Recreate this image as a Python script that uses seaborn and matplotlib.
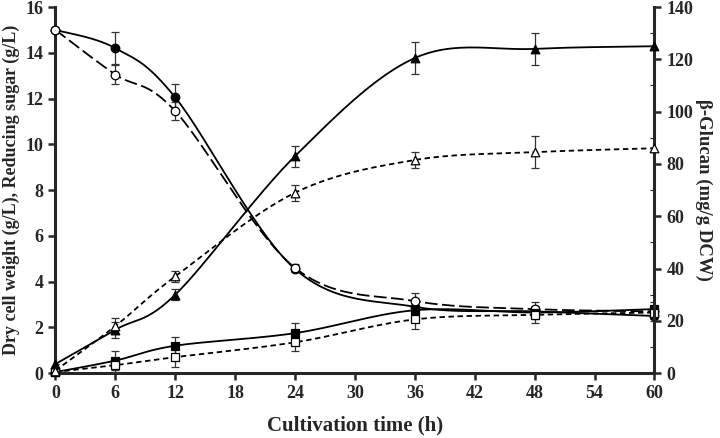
import numpy as np
import pandas as pd
import matplotlib
matplotlib.use("Agg")
import matplotlib.pyplot as plt
import seaborn as sns

time_h = [0, 6, 12, 24, 36, 48, 60]
sugar_filled = [15.0, 14.2, 12.05, 4.55, 2.9, 2.7, 2.5]
sugar_filled_err = [0.0, 0.7, 0.6, 0.15, 0.2, 0.2, 0.2]
sugar_open = [15.0, 13.05, 11.45, 4.6, 3.15, 2.8, 2.7]
sugar_open_err = [0.0, 0.4, 0.4, 0.15, 0.35, 0.3, 0.2]
dcw_filled = [0.05, 0.55, 1.2, 1.75, 2.75, 2.65, 2.8]
dcw_filled_err = [0.05, 0.4, 0.4, 0.45, 0.35, 0.3, 0.3]
dcw_open = [0.05, 0.35, 0.7, 1.35, 2.35, 2.55, 2.65]
dcw_open_err = [0.05, 0.3, 0.45, 0.4, 0.4, 0.35, 0.3]
glucan_filled = [3.5, 16.6, 30.0, 83.0, 120.5, 124.0, 125.0]
glucan_filled_err = [0.0, 3.0, 2.0, 4.0, 6.0, 6.0, 0.0]
glucan_open = [1.0, 18.0, 37.0, 69.0, 81.5, 84.5, 86.0]
glucan_open_err = [0.0, 3.0, 2.0, 3.0, 3.0, 6.0, 0.0]

x_ticks = [0, 6, 12, 18, 24, 30, 36, 42, 48, 54, 60]


def smooth(xs, ys, n=30):
    """Excel-like smoothed line (cubic Bezier / Catmull-Rom) through the points."""
    P = np.column_stack([xs, ys]).astype(float)
    out = []
    for i in range(len(P) - 1):
        p0 = P[max(i - 1, 0)]
        p1 = P[i]
        p2 = P[i + 1]
        p3 = P[min(i + 2, len(P) - 1)]
        c1 = p1 + (p2 - p0) / 6.0
        c2 = p2 - (p3 - p1) / 6.0
        t = np.linspace(0, 1, n)[:, None]
        seg = ((1 - t) ** 3) * p1 + 3 * ((1 - t) ** 2) * t * c1 + 3 * (1 - t) * t ** 2 * c2 + t ** 3 * p2
        out.append(seg if i == 0 else seg[1:])
    s = np.vstack(out)
    return s[:, 0], s[:, 1]


sns.set_style("ticks")
plt.rcParams["font.family"] = ["Liberation Serif", "DejaVu Serif"]
plt.rcParams["font.weight"] = "bold"

fig = plt.figure(figsize=(7.2, 4.38), dpi=100)
ax = fig.add_axes([0.077, 0.148, 0.832, 0.836])
ax2 = ax.twinx()

series_left = [
    (sugar_filled, sugar_filled_err, "o", "black", "-"),
    (sugar_open, sugar_open_err, "o", "white", (0, (7, 2.5))),
    (dcw_filled, dcw_filled_err, "s", "black", "-"),
    (dcw_open, dcw_open_err, "s", "white", (0, (3, 2))),
]
series_right = [
    (glucan_filled, glucan_filled_err, "^", "black", "-"),
    (glucan_open, glucan_open_err, "^", "white", (0, (3, 2))),
]

for axis, group in ((ax, series_left), (ax2, series_right)):
    for ys, err, mk, fc, ls in group:
        sx, sy = smooth(time_h, ys)
        axis.plot(sx, sy, color="black", lw=1.3, linestyle=ls, zorder=2)
        axis.errorbar(time_h, ys, yerr=err, fmt="none", ecolor="#333333",
                      elinewidth=0.9, capsize=3, capthick=0.9, zorder=3)
        df = pd.DataFrame({"t": time_h, "v": ys})
        sns.scatterplot(data=df, x="t", y="v", marker=mk, s=38, color=fc,
                        edgecolor="black", linewidth=0.9, ax=axis, zorder=4,
                        clip_on=False)

ax.set_xlim(0, 60)
ax.set_ylim(0, 16)
ax2.set_ylim(0, 140)
ax.set_xticks(x_ticks)
ax.set_yticks(range(0, 17, 2))
ax2.set_yticks(range(0, 141, 20))
ax2.set_yticks(range(10, 140, 20), minor=True)

for a in (ax, ax2):
    a.set_xlabel("")
    a.set_ylabel("")
    for s in a.spines.values():
        s.set_linewidth(2.2)
    a.spines["top"].set_visible(False)

ax.spines["right"].set_visible(False)
ax2.spines["left"].set_visible(False)
ax2.spines["bottom"].set_visible(False)

ax.tick_params(axis="both", which="major", labelsize=13, width=1.8, length=5, direction="out")
ax2.tick_params(axis="y", which="major", labelsize=13, width=1.8, length=5, direction="out")
ax2.tick_params(axis="y", which="minor", width=0.8, length=3, direction="in")
for lab in ax.get_xticklabels() + ax.get_yticklabels() + ax2.get_yticklabels():
    lab.set_fontweight("bold")

ax.set_xlabel("Cultivation time (h)", fontsize=15, fontweight="bold", labelpad=10)
ax.set_ylabel("Dry cell weight (g/L), Reducing sugar (g/L)", fontsize=13, fontweight="bold", labelpad=4)
ax2.set_ylabel("β-Glucan (mg/g DCW)", fontsize=13.5, fontweight="bold", rotation=270, labelpad=14)

fig.savefig("out.png", dpi=100)
